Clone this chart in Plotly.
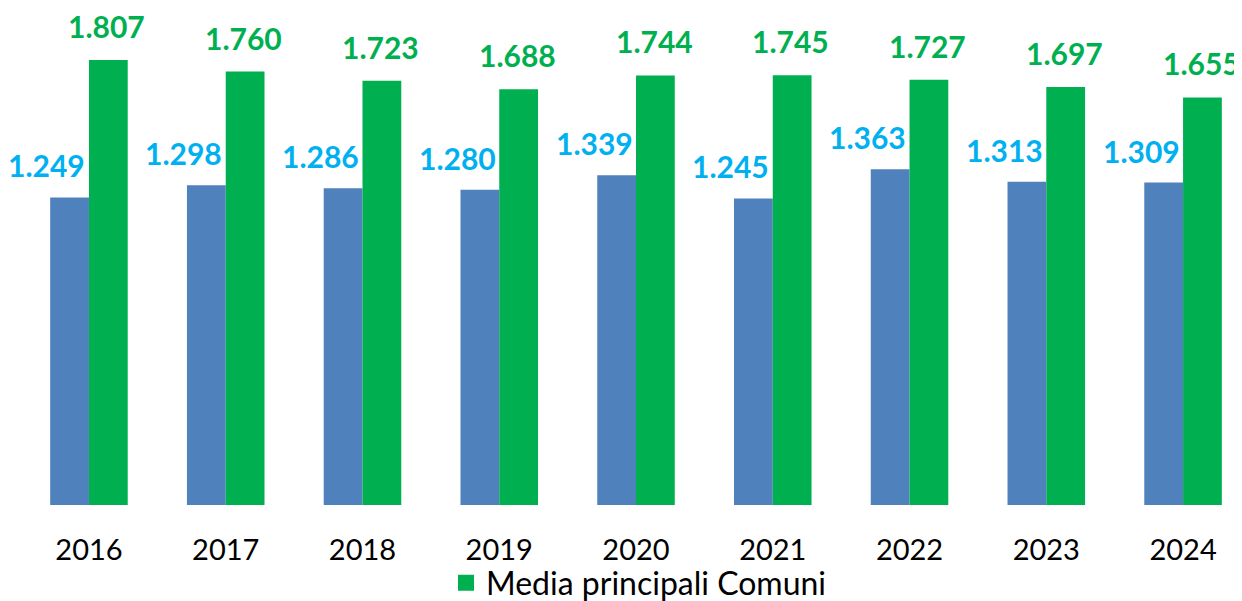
import plotly.graph_objects as go

years = ["2016", "2017", "2018", "2019", "2020", "2021", "2022", "2023", "2024"]
blue_values = [1249, 1298, 1286, 1280, 1339, 1245, 1363, 1313, 1309]
green_values = [1807, 1760, 1723, 1688, 1744, 1745, 1727, 1697, 1655]
green_name = "Media principali Comuni"
blue_name = "Media"

BLUE = "#4F81BD"
GREEN = "#00B050"
LABEL_BLUE = "#00B0F0"
FONT = "Lato"

W, H = 1234, 593  # page body adds an 8px margin; the figure fills the rest of the window


def it(v):
    return f"{v:,}".replace(",", ".")


fig = go.Figure()
fig.add_trace(go.Bar(x=years, y=blue_values, name=blue_name, marker_color=BLUE,
                     showlegend=False, marker_line_width=0))
fig.add_trace(go.Bar(x=years, y=green_values, name=green_name, marker_color=GREEN,
                     marker_line_width=0, showlegend=False, legendgroup="g"))
# legend proxy with a bigger square symbol
fig.add_trace(go.Scatter(x=[None], y=[None], mode="markers", name=green_name,
                         legendgroup="g",
                         marker=dict(symbol="square", size=20, color=GREEN)))

annotations = []
for i, v in enumerate(blue_values):
    annotations.append(dict(x=i, y=v, xref="x", yref="y", text="<b>" + it(v) + "</b>",
                            showarrow=False, xanchor="center", yanchor="bottom",
                            xshift=-42, yshift=12,
                            font=dict(family=FONT, size=30, color=LABEL_BLUE)))
for i, v in enumerate(green_values):
    annotations.append(dict(x=i, y=v, xref="x", yref="y", text="<b>" + it(v) + "</b>",
                            showarrow=False, xanchor="center", yanchor="bottom",
                            xshift=18, yshift=14,
                            font=dict(family=FONT, size=30, color=GREEN)))

fig.update_layout(
    width=W, height=H,
    margin=dict(l=0, r=0, t=0, b=96, autoexpand=False),
    paper_bgcolor="white", plot_bgcolor="white",
    barmode="group", bargap=0.433, bargroupgap=0,
    font=dict(family=FONT, size=29, color="black"),
    xaxis=dict(type="category", range=[-0.592, 8.431], showgrid=False, showline=False,
               ticks="", tickfont=dict(size=29, color="black"), ticklabelstandoff=25,
               automargin=False),
    yaxis=dict(range=[0, 2018], visible=False, showgrid=False, automargin=False),
    legend=dict(orientation="h", x=438 / W, xanchor="left", xref="container",
                y=1 - 575 / H, yanchor="middle", yref="container",
                bgcolor="rgba(0,0,0,0)",
                font=dict(size=32, color="black")),
    annotations=annotations,
)

fig.write_html("out.html")
